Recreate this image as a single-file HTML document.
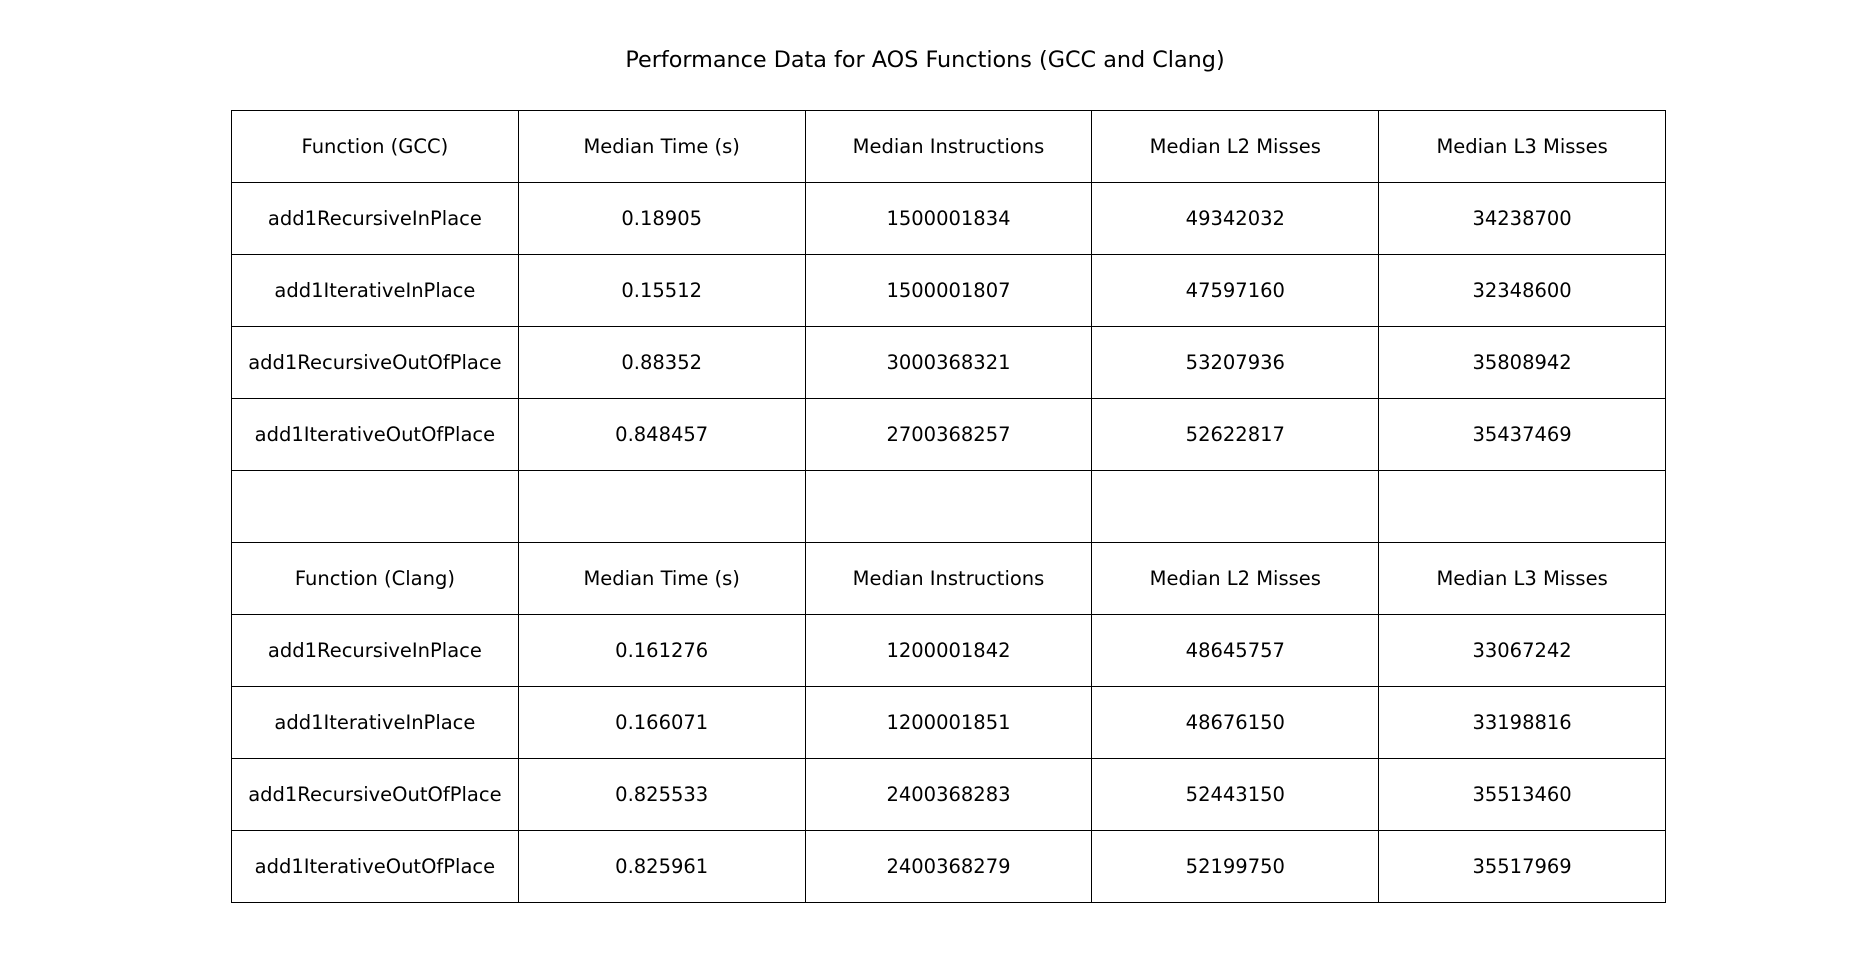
<!DOCTYPE html>
<html><head><meta charset="utf-8"><style>
body{margin:0;background:#fff;width:1850px;height:974px;overflow:hidden;position:relative;font-family:"DejaVu Sans","Liberation Sans",sans-serif;}
#title{position:absolute;left:0;width:1850px;top:47px;text-align:center;font-size:22.3px;color:#000;}
table{position:absolute;left:231px;top:110px;border-collapse:collapse;table-layout:fixed;width:1435px;}
td{height:71px;border:1.5px solid #000;text-align:center;font-size:19.5px;color:#000;padding:0;}
</style></head><body>
<div id="title">Performance Data for AOS Functions (GCC and Clang)</div>
<table><tbody id="tb"></tbody></table>
<script>
const rows = [
["Function (GCC)","Median Time (s)","Median Instructions","Median L2 Misses","Median L3 Misses"],
["add1RecursiveInPlace","0.18905","1500001834","49342032","34238700"],
["add1IterativeInPlace","0.15512","1500001807","47597160","32348600"],
["add1RecursiveOutOfPlace","0.88352","3000368321","53207936","35808942"],
["add1IterativeOutOfPlace","0.848457","2700368257","52622817","35437469"],
["","","","",""],
["Function (Clang)","Median Time (s)","Median Instructions","Median L2 Misses","Median L3 Misses"],
["add1RecursiveInPlace","0.161276","1200001842","48645757","33067242"],
["add1IterativeInPlace","0.166071","1200001851","48676150","33198816"],
["add1RecursiveOutOfPlace","0.825533","2400368283","52443150","35513460"],
["add1IterativeOutOfPlace","0.825961","2400368279","52199750","35517969"]
];
const tb=document.getElementById('tb');
rows.forEach((r,i)=>{
 const tr=document.createElement('tr');
 
 
 r.forEach((c,j)=>{
  const td=document.createElement('td');
  td.textContent=c;
  
  
  tr.appendChild(td);
 });
 tb.appendChild(tr);
});
</script>
</body></html>
